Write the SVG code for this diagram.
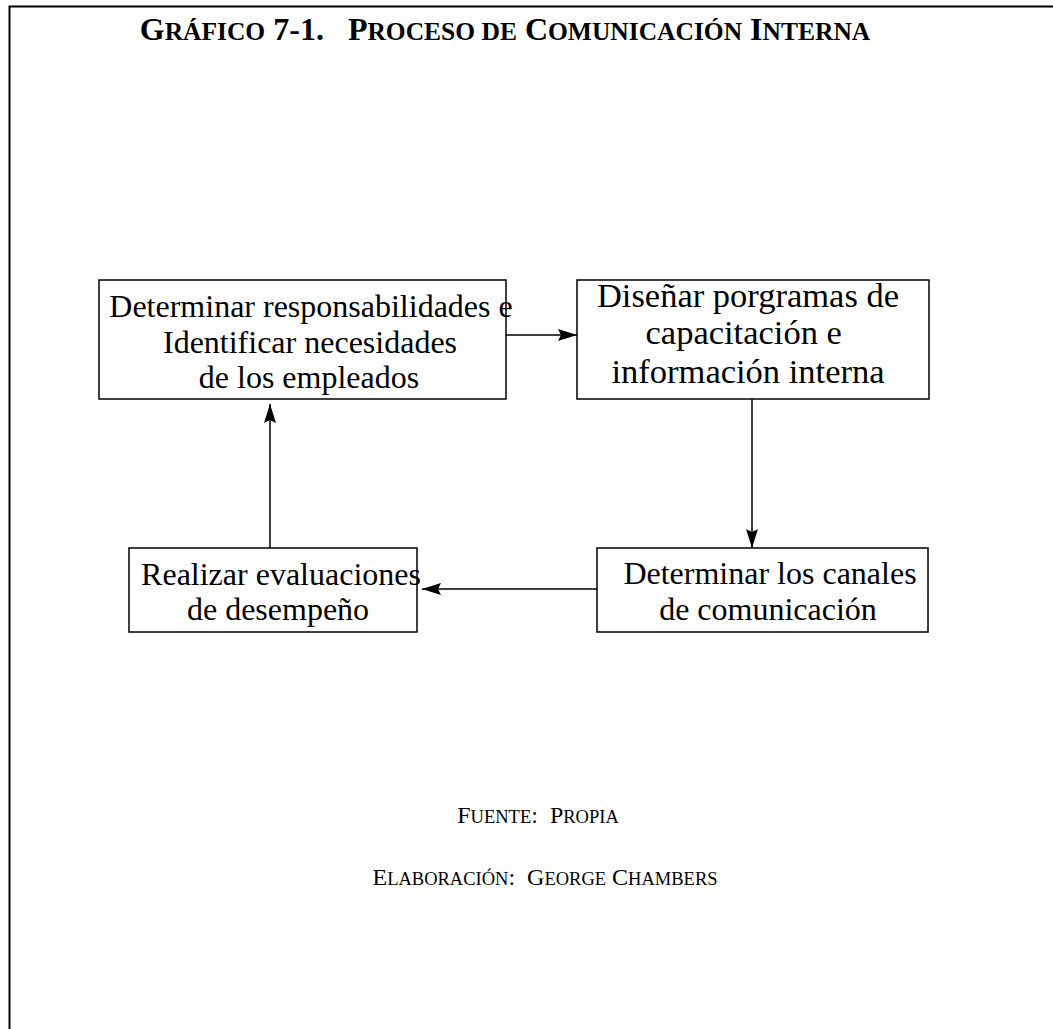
<svg xmlns="http://www.w3.org/2000/svg" width="1053" height="1029" viewBox="0 0 1053 1029">
  <style>
    .frame { fill: none; stroke: #000; stroke-width: 2; }
    .box { fill: #fff; stroke: #000; stroke-width: 1.5; }
    .label { font-family: "Liberation Serif", "Times New Roman", serif; font-size: 32px; fill: #000; text-anchor: middle; }
    .title { font-family: "Liberation Serif", "Times New Roman", serif; font-weight: bold; font-size: 32px; fill: #000; text-anchor: middle; }
    .note { font-family: "Liberation Serif", "Times New Roman", serif; font-size: 24px; fill: #000; text-anchor: middle; }
    .sc-t { font-size: 25.5px; }
    .sc-n { font-size: 18.5px; }
    .edge { fill: none; stroke: #000; stroke-width: 1.5; marker-end: url(#arrow); }
  </style>
  <defs>
    <marker id="arrow" viewBox="0 0 19 12" refX="19" refY="6" markerWidth="19" markerHeight="12" markerUnits="userSpaceOnUse" orient="auto">
      <path d="M0,0 L19,6 L0,12 L3,6 Z" fill="#000"/>
    </marker>
  </defs>
  <rect width="1053" height="1029" fill="#fff"/>
  <path class="frame" d="M9.5,1029 V6.5 H1053"/>

  <text class="title" x="505" y="40" xml:space="preserve">G<tspan class="sc-t">RÁFICO</tspan> 7-1.   P<tspan class="sc-t">ROCESO DE</tspan> C<tspan class="sc-t">OMUNICACIÓN</tspan> I<tspan class="sc-t">NTERNA</tspan></text>

  <g id="connectors">
    <line class="edge" x1="506" y1="335" x2="577" y2="335"/>
    <line class="edge" x1="752" y1="399" x2="752" y2="548"/>
    <line class="edge" x1="597" y1="589" x2="422" y2="589"/>
    <line class="edge" x1="270" y1="550" x2="270" y2="404"/>
  </g>

  <g id="node-responsabilidades">
    <rect class="box" x="99" y="280" width="407" height="119"/>
    <text class="label" x="311" y="317">Determinar responsabilidades e</text>
    <text class="label" x="310" y="353">Identificar necesidades</text>
    <text class="label" x="309" y="388">de los empleados</text>
  </g>

  <g id="node-programas">
    <rect class="box" x="577" y="280" width="352" height="119"/>
    <text class="label" x="748" y="307" style="font-size:34.5px">Diseñar porgramas de</text>
    <text class="label" x="748" y="344" style="font-size:34.5px" xml:space="preserve">capacitación e </text>
    <text class="label" x="748" y="383" style="font-size:34.5px">información interna</text>
  </g>

  <g id="node-canales">
    <rect class="box" x="597" y="548" width="331" height="84"/>
    <text class="label" x="770" y="584">Determinar los canales</text>
    <text class="label" x="768" y="620">de comunicación</text>
  </g>

  <g id="node-evaluaciones">
    <rect class="box" x="129" y="548" width="288" height="84"/>
    <text class="label" x="281" y="585">Realizar evaluaciones</text>
    <text class="label" x="278" y="620">de desempeño</text>
  </g>

  <text class="note" x="538" y="823" xml:space="preserve">F<tspan class="sc-n">UENTE</tspan>:  P<tspan class="sc-n">ROPIA</tspan></text>
  <text class="note" x="545" y="885" xml:space="preserve">E<tspan class="sc-n">LABORACIÓN</tspan>:  G<tspan class="sc-n">EORGE</tspan> C<tspan class="sc-n">HAMBERS</tspan></text>
</svg>
